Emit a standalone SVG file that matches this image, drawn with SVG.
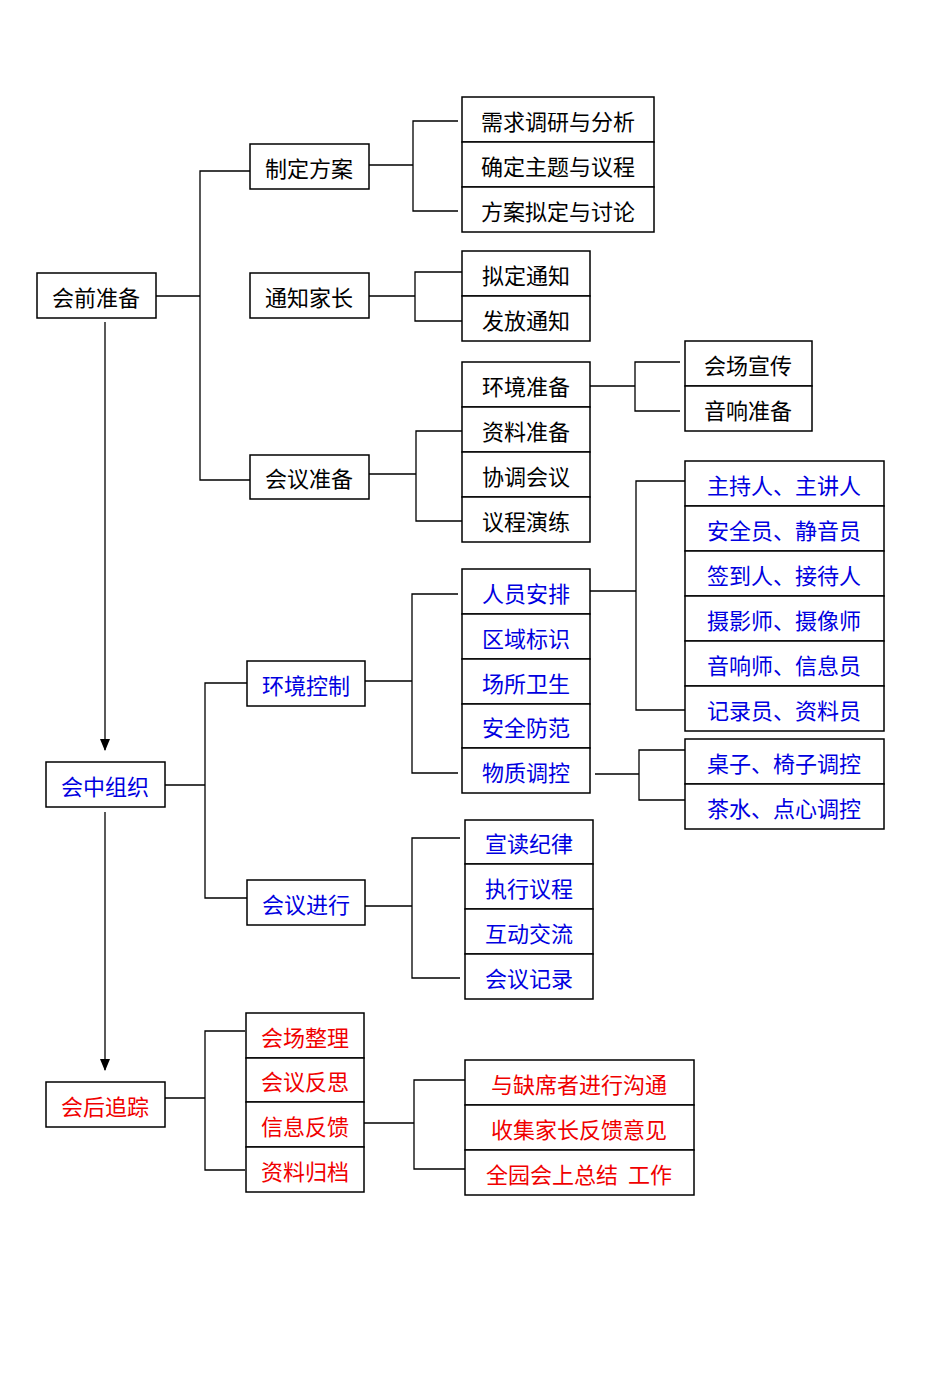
<svg xmlns="http://www.w3.org/2000/svg" width="950" height="1373" viewBox="0 0 950 1373">
<style>
rect{fill:#fff;stroke:#000;stroke-width:1.5}
text{font-family:"Noto Sans CJK SC","Liberation Sans",sans-serif;font-size:22px;text-anchor:middle;dominant-baseline:central}
.k{fill:#000}.b{fill:#0000e0}.r{fill:#f00000}
#conn path{fill:none;stroke:#000;stroke-width:1.3}
</style>
<defs><marker id="ah" markerWidth="10" markerHeight="12" refX="5" refY="12" orient="auto" markerUnits="userSpaceOnUse"><path d="M0,0 L10,0 L5,12 Z" transform="rotate(-90 5 6) translate(0 0)" fill="#000"/></marker>
<marker id="a2" markerWidth="10" markerHeight="12" refX="5" refY="11" markerUnits="userSpaceOnUse"><path d="M0,0 L10,0 L5,12 Z" fill="#000"/></marker></defs>
<g id="conn">
<path d="M105,322 V750" marker-end="url(#a2)"/>
<path d="M105,812 V1070" marker-end="url(#a2)"/>
<path d="M156,296 H200 M250,171 H200 V480 H250"/>
<path d="M369,165 H413 M458,121 H413 V211 H458"/>
<path d="M369,296 H415 M462,272 H415 V321 H462"/>
<path d="M369,474 H416 M462,431 H416 V521 H462"/>
<path d="M590,386 H635 M680,362 H635 V411 H680"/>
<path d="M165,785 H205 M247,683 H205 V898 H247"/>
<path d="M365,681 H412 M458,594 H412 V773 H458"/>
<path d="M590,591 H636 M685,481 H636 V710 H685"/>
<path d="M595,774 H639 M685,750 H639 V800 H685"/>
<path d="M365,906 H412 M460,838 H412 V978 H460"/>
<path d="M165,1098 H205 M245,1031 H205 V1170 H245"/>
<path d="M364,1123 H414 M465,1080 H414 V1169 H465"/>
</g>
<g id="n1"><rect x="37" y="273" width="119" height="45"/><text class="k" x="96" y="296">会前准备</text></g>
<g id="n2"><rect x="250" y="144" width="119" height="45"/><text class="k" x="309" y="167">制定方案</text></g>
<g id="n3"><rect x="250" y="273" width="119" height="45"/><text class="k" x="309" y="296">通知家长</text></g>
<g id="n4"><rect x="250" y="455" width="119" height="44"/><text class="k" x="309" y="477">会议准备</text></g>
<g id="n5"><rect x="462" y="97" width="192" height="45"/><text class="k" x="558" y="120">需求调研与分析</text></g>
<g id="n6"><rect x="462" y="142" width="192" height="45"/><text class="k" x="558" y="165">确定主题与议程</text></g>
<g id="n7"><rect x="462" y="187" width="192" height="45"/><text class="k" x="558" y="210">方案拟定与讨论</text></g>
<g id="n8"><rect x="462" y="251" width="128" height="45"/><text class="k" x="526" y="274">拟定通知</text></g>
<g id="n9"><rect x="462" y="296" width="128" height="45"/><text class="k" x="526" y="319">发放通知</text></g>
<g id="n10"><rect x="462" y="362" width="128" height="45"/><text class="k" x="526" y="385">环境准备</text></g>
<g id="n11"><rect x="462" y="407" width="128" height="45"/><text class="k" x="526" y="430">资料准备</text></g>
<g id="n12"><rect x="462" y="452" width="128" height="45"/><text class="k" x="526" y="475">协调会议</text></g>
<g id="n13"><rect x="462" y="497" width="128" height="45"/><text class="k" x="526" y="520">议程演练</text></g>
<g id="n14"><rect x="685" y="341" width="127" height="45"/><text class="k" x="748" y="364">会场宣传</text></g>
<g id="n15"><rect x="685" y="386" width="127" height="45"/><text class="k" x="748" y="409">音响准备</text></g>
<g id="n16"><rect x="46" y="762" width="119" height="45"/><text class="b" x="105" y="785">会中组织</text></g>
<g id="n17"><rect x="247" y="661" width="118" height="45"/><text class="b" x="306" y="684">环境控制</text></g>
<g id="n18"><rect x="247" y="880" width="118" height="45"/><text class="b" x="306" y="903">会议进行</text></g>
<g id="n19"><rect x="462" y="569" width="128" height="45"/><text class="b" x="526" y="592">人员安排</text></g>
<g id="n20"><rect x="462" y="614" width="128" height="45"/><text class="b" x="526" y="637">区域标识</text></g>
<g id="n21"><rect x="462" y="659" width="128" height="45"/><text class="b" x="526" y="682">场所卫生</text></g>
<g id="n22"><rect x="462" y="704" width="128" height="44"/><text class="b" x="526" y="726">安全防范</text></g>
<g id="n23"><rect x="462" y="748" width="128" height="45"/><text class="b" x="526" y="771">物质调控</text></g>
<g id="n24"><rect x="685" y="461" width="199" height="45"/><text class="b" x="784" y="484">主持人、主讲人</text></g>
<g id="n25"><rect x="685" y="506" width="199" height="45"/><text class="b" x="784" y="529">安全员、静音员</text></g>
<g id="n26"><rect x="685" y="551" width="199" height="45"/><text class="b" x="784" y="574">签到人、接待人</text></g>
<g id="n27"><rect x="685" y="596" width="199" height="45"/><text class="b" x="784" y="619">摄影师、摄像师</text></g>
<g id="n28"><rect x="685" y="641" width="199" height="45"/><text class="b" x="784" y="664">音响师、信息员</text></g>
<g id="n29"><rect x="685" y="686" width="199" height="45"/><text class="b" x="784" y="709">记录员、资料员</text></g>
<g id="n30"><rect x="685" y="739" width="199" height="45"/><text class="b" x="784" y="762">桌子、椅子调控</text></g>
<g id="n31"><rect x="685" y="784" width="199" height="45"/><text class="b" x="784" y="807">茶水、点心调控</text></g>
<g id="n32"><rect x="465" y="820" width="128" height="44"/><text class="b" x="529" y="842">宣读纪律</text></g>
<g id="n33"><rect x="465" y="864" width="128" height="45"/><text class="b" x="529" y="887">执行议程</text></g>
<g id="n34"><rect x="465" y="909" width="128" height="45"/><text class="b" x="529" y="932">互动交流</text></g>
<g id="n35"><rect x="465" y="954" width="128" height="45"/><text class="b" x="529" y="977">会议记录</text></g>
<g id="n36"><rect x="46" y="1082" width="119" height="45"/><text class="r" x="105" y="1105">会后追踪</text></g>
<g id="n37"><rect x="246" y="1013" width="118" height="45"/><text class="r" x="305" y="1036">会场整理</text></g>
<g id="n38"><rect x="246" y="1058" width="118" height="44"/><text class="r" x="305" y="1080">会议反思</text></g>
<g id="n39"><rect x="246" y="1102" width="118" height="45"/><text class="r" x="305" y="1125">信息反馈</text></g>
<g id="n40"><rect x="246" y="1147" width="118" height="45"/><text class="r" x="305" y="1170">资料归档</text></g>
<g id="n41"><rect x="465" y="1060" width="229" height="45"/><text class="r" x="579" y="1083">与缺席者进行沟通</text></g>
<g id="n42"><rect x="465" y="1105" width="229" height="45"/><text class="r" x="579" y="1128">收集家长反馈意见</text></g>
<g id="n43"><rect x="465" y="1150" width="229" height="45"/><text class="r" x="579" y="1173" xml:space="preserve">全园会上总结  工作</text></g>
</svg>
